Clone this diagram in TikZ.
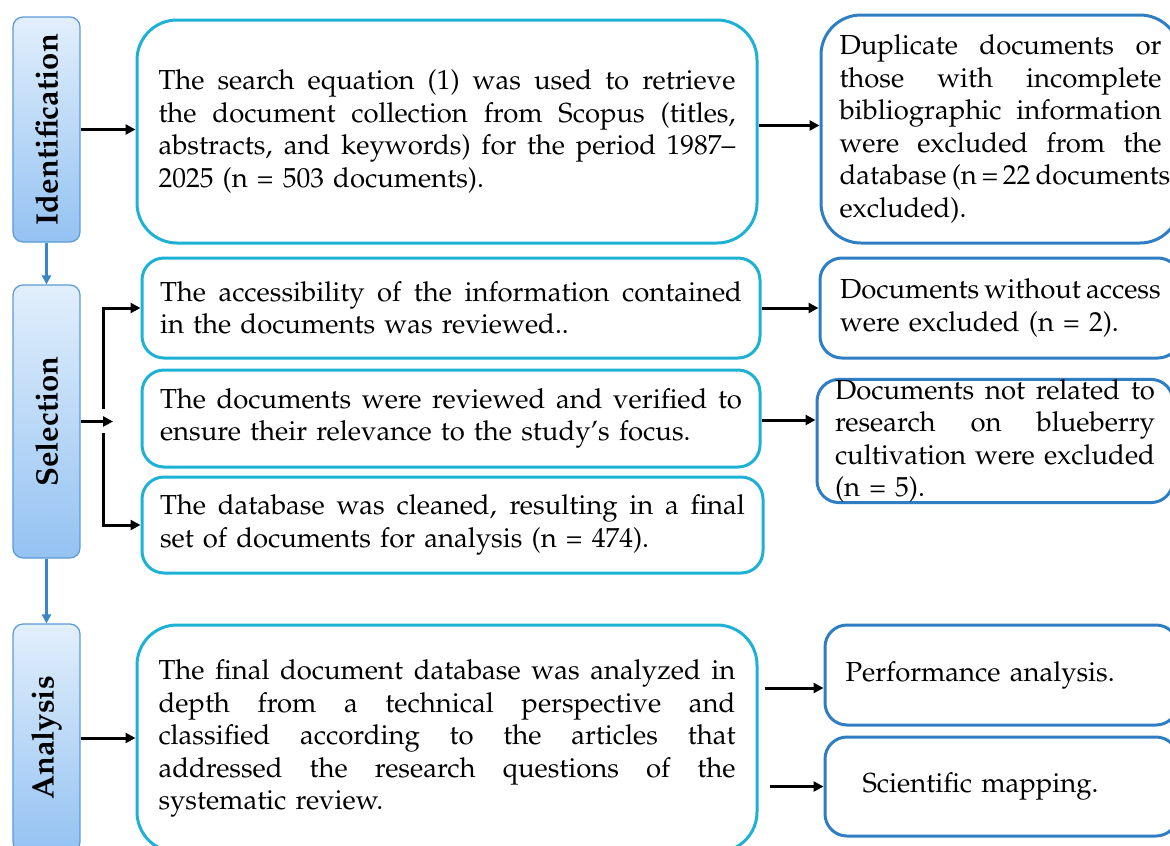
\documentclass[tikz,border=0pt]{standalone}
\usepackage[T1]{fontenc}
\usepackage{mathpazo}
\usepackage{graphicx}
\usetikzlibrary{arrows.meta,calc}

\definecolor{phaseline}{HTML}{5B9BD5}
\definecolor{phasetop}{HTML}{E2EFFC}
\definecolor{phasebot}{HTML}{94C2F2}
\definecolor{stepline}{HTML}{1DB1D4}
\definecolor{outline}{HTML}{2F7EC3}
\definecolor{flowblue}{HTML}{3A86C8}

% one fully justified line of a paragraph (font's own stretchable spaces)
\newcommand{\jl}[1]{\makebox[\linewidth][s]{\spaceskip=0pt\xspaceskip=0pt #1}\\}
\newcommand{\bodyfont}{\fontsize{27.5}{32.5}\selectfont}

\tikzset{
  phase/.style={draw=phaseline, line width=1.2pt, rounded corners=10pt,
    top color=phasetop, bottom color=phasebot, minimum width=67pt,
    inner sep=0pt, font=\fontsize{31}{36}\selectfont\bfseries},
  stepbox/.style={draw=stepline, line width=3pt, fill=white, inner sep=0pt,
    align=left, font=\bodyfont},
  outbox/.style={draw=outline, line width=3pt, fill=white, inner sep=0pt,
    align=left, font=\bodyfont},
  arr/.style={line width=3pt, -{Triangle[length=10pt,width=10pt]}},
  flow/.style={draw=flowblue, line width=2.6pt, -{Triangle[length=9pt,width=9pt]}, flowblue},
}

\begin{document}
\begin{tikzpicture}[x=1pt,y=-1pt]
\clip (0,0) rectangle (1170,846);
\fill[white] (0,0) rectangle (1170,846);

% phases
\node[phase, minimum height=225pt] (id) at (46.5,129.5) {\rotatebox{90}{Identification}};
\node[phase, minimum height=273pt] (sel) at (46.5,421.5) {\rotatebox{90}{Selection}};
\node[phase, minimum height=228pt] (an) at (46.5,738) {\rotatebox{90}{Analysis}};

% process steps
\node[stepbox, rounded corners=40pt, minimum width=620pt, minimum height=223pt, text width=577pt] (b1) at (447,131.5)
  {\jl{The search equation (1) was used to retrieve}\jl{the document collection from Scopus (titles,}\jl{abstracts, and keywords) for the period 1987--}2025 (n = 503 documents).};
\node[stepbox, rounded corners=22pt, minimum width=618pt, minimum height=100pt, text width=582pt] (b2) at (451,308)
  {\jl{The accessibility of the information contained}in the documents was reviewed..};
\node[stepbox, rounded corners=22pt, minimum width=618pt, minimum height=97pt, text width=582pt] (b3) at (451,418.5)
  {\jl{The documents were reviewed and verified to}ensure their relevance to the study's focus.};
\node[stepbox, rounded corners=22pt, minimum width=621pt, minimum height=96pt, text width=585pt] (b4) at (452.5,525)
  {\jl{The database was cleaned, resulting in a final}set of documents for analysis (n = 474).};
\node[stepbox, rounded corners=40pt, minimum width=620pt, minimum height=227pt, text width=577pt] (b5) at (447,738.5)
  {\jl{The final document database was analyzed in}\jl{depth from a technical perspective and}\jl{classified according to the articles that}\jl{addressed the research questions of the}systematic review.};

% outcomes
\node[outbox, rounded corners=40pt, minimum width=359pt, minimum height=228pt, text width=322pt] (r1) at (1000.5,129)
  {\jl{Duplicate documents or}\jl{those with incomplete}\jl{bibliographic information}\jl{were excluded from the}\jl{database (n\,=\,22 documents}excluded).};
\node[outbox, rounded corners=22pt, minimum width=360pt, minimum height=100pt, text width=320pt] (r2) at (1000,308)
  {\jl{Documents without access}were excluded (n = 2).};
\node[outbox, rounded corners=22pt, minimum width=356pt, minimum height=122pt, text width=320pt] (r3) at (995,441)
  {\jl{Documents not related to}\jl{research on blueberry}\jl{cultivation were excluded}(n = 5).};
\node[outbox, rounded corners=22pt, minimum width=353pt, minimum height=100pt, text width=312pt] (r4) at (1001.5,675)
  {Performance analysis.};
\node[outbox, rounded corners=22pt, minimum width=353pt, minimum height=99pt, text width=312pt] (r5) at (1001.5,786.5)
  {\hspace*{17pt}Scientific mapping.};

% phase sequence
\draw[flow] (id.south) -- (sel.north);
\draw[flow] (sel.south) -- (an.north);

% identification
\draw[arr] (id.east) -- (id.east -| b1.west);
\draw[arr] ([yshift=6pt]b1.east) -- ([yshift=6pt]b1.east -| r1.west);

% selection fork
\coordinate (fork) at (103,421.5);
\draw[arr] (sel.east) -- ([xshift=10pt]fork);
\draw[arr] ([yshift=12.5pt]fork) -- (fork |- b2.west) -- (b2.west);
\draw[arr] ([yshift=-11.5pt]fork) -- (fork |- b4.west) -- (b4.west);
\draw[arr] (b2.east) -- (r2.west);
\draw[arr] ([yshift=-1.5pt]b3.east) -- ([yshift=-1.5pt]b3.east -| r3.west);

% analysis
\draw[arr] (an.east) -- (an.east -| b5.west);
\path ([yshift=-13pt]r4.west) coordinate (r4in);
\draw[arr] ($(b5.east |- r4in)+(6pt,0)$) -- (r4in);
\draw[arr] ($(b5.east |- r5.west)+(11pt,0)$) -- (r5.west);
\end{tikzpicture}
\end{document}
